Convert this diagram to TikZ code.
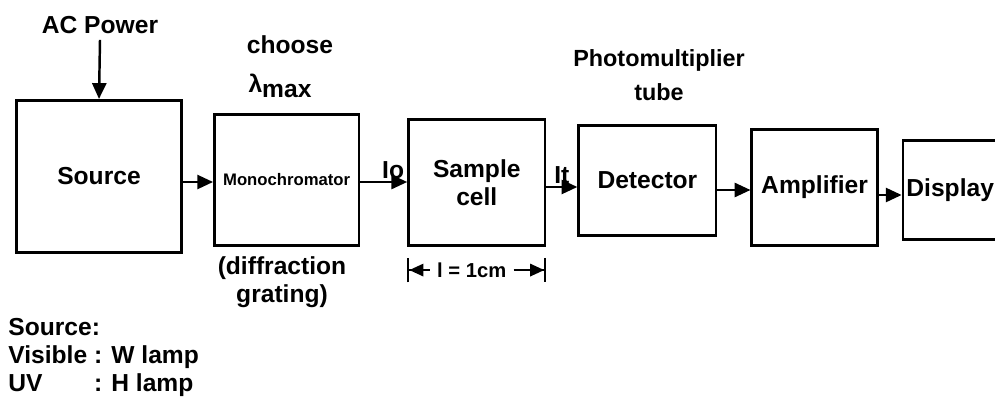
\documentclass[tikz,border=0pt]{standalone}
\usepackage{fontspec}
\setmainfont{Liberation Sans}
\usetikzlibrary{positioning,arrows.meta}

\begin{document}
\begin{tikzpicture}[
  font=\bfseries\fontsize{14}{16.2}\selectfont,
  block/.style={rectangle, draw, line width=1.5pt, inner sep=2pt, align=center},
  arr/.style={-{Triangle[length=9pt,width=8pt]}, line width=1.4pt},
  dim/.style={-{Triangle[length=8pt,width=7pt] Bar[width=14pt]}, line width=1.2pt},
  lbl/.style={inner sep=1pt}
]
\useasboundingbox (0,0) rectangle (19.9,-8.2);
% main chain
\node[block, minimum width=3.31cm, minimum height=3.05cm] (src) at (1.98,-3.53) {Source};
\node[block, minimum width=2.89cm, minimum height=2.63cm, right=0.6cm of src, yshift=-0.07cm,
      font=\bfseries\fontsize{9.5}{12}\selectfont] (mono) {Monochromator};
\node[block, minimum width=2.73cm, minimum height=2.53cm, right=0.94cm of mono, yshift=-0.05cm] (cell) {Sample\\cell};
\node[block, minimum width=2.75cm, minimum height=2.21cm, right=0.62cm of cell, yshift=0.04cm] (det) {Detector};
\node[block, minimum width=2.51cm, minimum height=2.33cm, right=0.66cm of det, yshift=-0.14cm] (amp) {Amplifier};
\node[block, minimum width=1.80cm, minimum height=1.99cm, right=0.46cm of amp, yshift=-0.05cm] (disp) {Display};
\draw[arr] ([yshift=-0.11cm]src.east) coordinate (a1) -- (a1 -| mono.west);
\draw[arr] ([yshift=-0.04cm]mono.east) coordinate (a2) -- (a2 -| cell.west)
  node[lbl, above, pos=0.7] (io) {Io};
\draw[arr] ([yshift=-0.09cm]cell.east) coordinate (a3) -- (a3 -| det.west)
  node[lbl, above, pos=0.5] (it) {It};
\draw[arr] ([yshift=-0.19cm]det.east) coordinate (a4) -- (a4 -| amp.west);
\draw[arr] ([yshift=-0.15cm]amp.east) coordinate (a5) -- (a5 -| disp.west);
% labels round the chain
\node (acp) at (2.0,-0.5) {AC Power};
\draw[arr] (acp.south) -- (src.north);
\node (choose) at (5.8,-0.9) {choose};
\node (lmax) at (5.6,-1.72) {λ\raisebox{-0.35ex}{max}};
\node[align=center, font=\bfseries\fontsize{13.3}{19}\selectfont] (pmt) at (13.18,-1.5) {Photomultiplier\\tube};
\node[align=center] (grat) at (5.64,-5.64) {(diffraction\\grating)};
% cell length
\coordinate (dl) at ([yshift=-0.46cm]cell.south west);
\coordinate (dr) at ([yshift=-0.46cm]cell.south east);
\node[lbl, font=\bfseries\fontsize{11.5}{14}\selectfont] (len) at ([yshift=-0.46cm, xshift=-0.1cm]cell.south) {l = 1cm};
\draw[dim] ([xshift=-3pt]len.west) -- (dl);
\draw[dim] ([xshift=3pt]len.east) -- (dr);
% lamps
\node[anchor=base west, inner sep=0pt] (lamps) at (0.16,-6.70) {%
  \begin{tabular}[t]{@{}l@{\ }l@{}}
  \multicolumn{2}{@{}l@{}}{Source:}\\
  Visible & : W lamp\\
  UV & : H lamp
  \end{tabular}};
\end{tikzpicture}
\end{document}
